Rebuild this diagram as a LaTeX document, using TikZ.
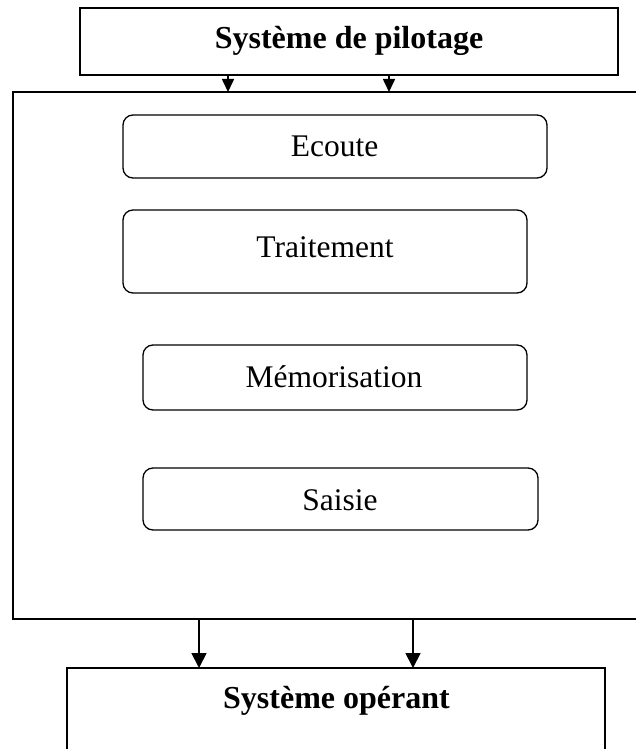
\documentclass[tikz,border=0pt]{standalone}
\usepackage{fontspec}
\setmainfont{Liberation Serif}
\usetikzlibrary{arrows.meta}
\tikzset{
  outerbox/.style={draw, line width=1.6pt, inner sep=0pt, outer sep=0pt},
  roundbox/.style={draw, line width=1.3pt, rounded corners=10pt, inner sep=0pt, outer sep=0pt},
  title/.style={font=\fontsize{32pt}{36pt}\selectfont\bfseries, anchor=base, inner sep=0pt},
  label/.style={font=\fontsize{31.5pt}{36pt}\selectfont, anchor=base, inner sep=0pt},
  arr/.style={line width=1.6pt, -{Triangle[length=13pt,width=12pt]}},
  arrb/.style={line width=1.8pt, -{Triangle[length=15pt,width=15pt]}}
}
\begin{document}
\begin{tikzpicture}[x=1pt,y=1pt]
\useasboundingbox (0,0) rectangle (635,-749);
% outer boxes
\node[outerbox, minimum width=538pt, minimum height=67pt] (pil) at (349,-41.5) {};
\node[outerbox, minimum width=627pt, minimum height=527pt] (sys) at (326.5,-355.5) {};
\node[outerbox, minimum width=538pt, minimum height=102pt] (ope) at (336,-719) {};
% titles
\node[title] (pilt) at (349,-49) {Système de pilotage};
\node[title] (opet) at (336.5,-708) {Système opérant};
% inner rounded boxes
\node[roundbox, minimum width=424pt, minimum height=63pt] (eco) at (335,-146.5) {};
\node[roundbox, minimum width=404pt, minimum height=83pt] (tra) at (325,-251.5) {};
\node[roundbox, minimum width=384pt, minimum height=65pt] (mem) at (335,-377.5) {};
\node[roundbox, minimum width=395pt, minimum height=62pt] (sai) at (340.5,-499) {};
% labels
\node[label] (ecot) at (334.5,-156) {Ecoute};
\node[label] (trat) at (325,-257) {Traitement};
\node[label] (memt) at (334,-387) {Mémorisation};
\node[label] (sait) at (340,-510) {Saisie};
% arrow columns
\coordinate (c1) at (228,0);
\coordinate (c2) at (389,0);
\coordinate (c3) at (199,0);
\coordinate (c4) at (413,0);
\draw[arr] (c1 |- pil.south) -- (c1 |- sys.north);
\draw[arr] (c2 |- pil.south) -- (c2 |- sys.north);
\draw[arrb] (c3 |- sys.south) -- (c3 |- ope.north);
\draw[arrb] (c4 |- sys.south) -- (c4 |- ope.north);
\end{tikzpicture}
\end{document}
